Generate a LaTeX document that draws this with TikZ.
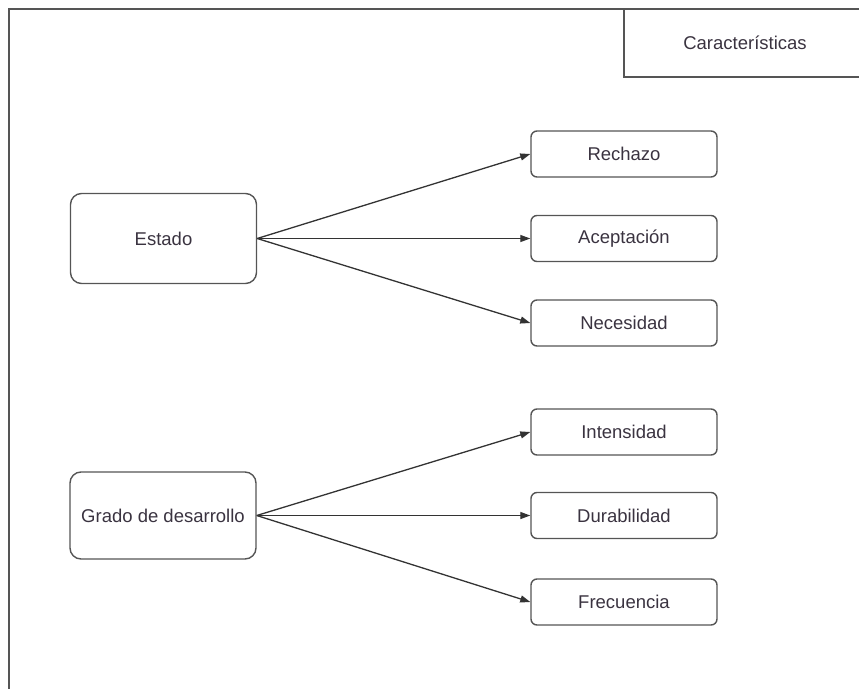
\documentclass[tikz,border=0pt]{standalone}
\usepackage{fontspec}
\setmainfont{Liberation Sans}
\usetikzlibrary{arrows.meta,positioning}
\definecolor{linegray}{HTML}{555555}
\definecolor{txtgray}{HTML}{3A3340}

\begin{document}
\begin{tikzpicture}[
  x=1pt, y=-1pt,
  every node/.style={font=\fontsize{18.5}{22}\selectfont, text=txtgray},
  bigbox/.style={draw=linegray, line width=1.4pt, rounded corners=11pt,
                 minimum width=186pt, minimum height=90pt, inner sep=0pt},
  item/.style={draw=linegray, line width=1.4pt, rounded corners=6pt,
               minimum width=186pt, minimum height=46pt, inner sep=0pt},
  link/.style={-{Triangle[length=10pt,width=7pt]}, line width=1.3pt, draw=black!80}
]
\useasboundingbox (0,0) rectangle (859,688);
\clip (0,0) rectangle (859,688);
% outer frame
\draw[linegray, line width=1.8pt] (9,700) rectangle (880,9);
\node[draw=linegray, line width=1.6pt, minimum width=244pt, minimum height=68pt,
      inner sep=0pt] (title) at (746,43) {};
\node at (745,43) {Características};

% left side
\node[bigbox] (estado) at (163.5,238.5) {Estado};
\node[bigbox, minimum height=87pt] (grado) at (163,515.5) {Grado de desarrollo};

% right side
\node[item] (rechazo) at (624,154) {Rechazo};
\node[item] (acept)   at (624,238.5) {Aceptación};
\node[item] (neces)   at (624,323) {Necesidad};
\node[item] (intens)  at (624,432) {Intensidad};
\node[item] (durab)   at (624,515.5) {Durabilidad};
\node[item] (frec)    at (624,602) {Frecuencia};

\foreach \t in {rechazo,acept,neces}
  \draw[link] (estado.east) -- (\t.west);
\foreach \t in {intens,durab,frec}
  \draw[link] (grado.east) -- (\t.west);
\end{tikzpicture}
\end{document}
